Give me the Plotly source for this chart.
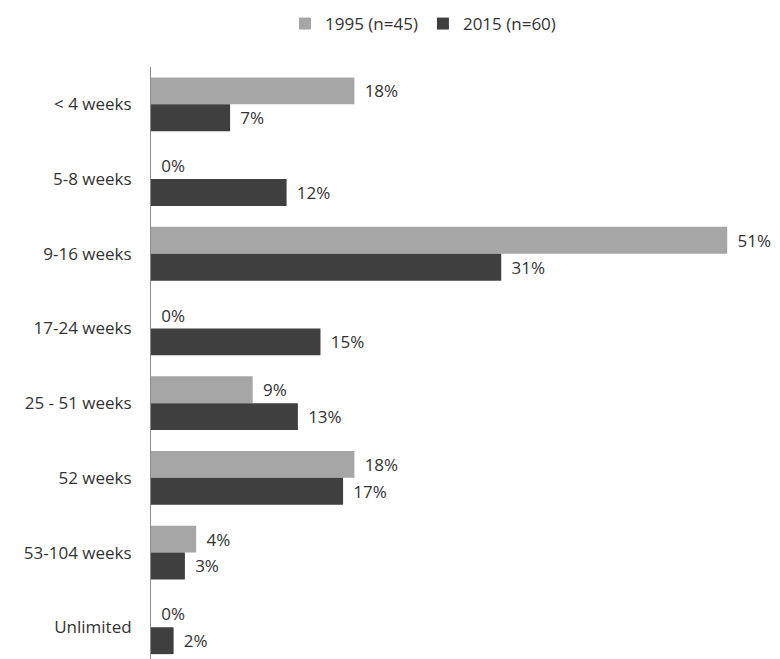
import plotly.graph_objects as go

categories = ["< 4 weeks", "5-8 weeks", "9-16 weeks", "17-24 weeks",
              "25 - 51 weeks", "52 weeks", "53-104 weeks", "Unlimited"]
values_1995 = [18, 0, 51, 0, 9, 18, 4, 0]
values_2015 = [7, 12, 31, 15, 13, 17, 3, 2]
name_1995 = "1995 (n=45)"
name_2015 = "2015 (n=60)"

FONT = "Open Sans, Lato, sans-serif"
TXT = "#333333"
FS = 17

W, H = 772, 651
LABEL = "\u00a0\u2009%{x}%"

fig = go.Figure()
fig.add_trace(go.Bar(
    y=categories, x=values_1995, name=name_1995, orientation="h",
    marker=dict(color="#a6a6a6", line=dict(width=0)),
    texttemplate=LABEL, textposition="outside", cliponaxis=False,
    constraintext="none",
    textfont=dict(family=FONT, size=FS, color=TXT),
))
fig.add_trace(go.Bar(
    y=categories, x=values_2015, name=name_2015, orientation="h",
    marker=dict(color="#3f3f3f", line=dict(width=0)),
    texttemplate=LABEL, textposition="outside", cliponaxis=False,
    constraintext="none",
    textfont=dict(family=FONT, size=FS, color=TXT),
))

fig.update_layout(
    width=W, height=H,
    margin=dict(l=143, r=20, t=58.6, b=0, pad=0, autoexpand=False),
    paper_bgcolor="white", plot_bgcolor="white",
    barmode="group", bargap=0.28, bargroupgap=0,
    font=dict(family=FONT, size=FS, color=TXT),
    showlegend=True,
    legend=dict(orientation="h", xref="container", yref="container",
                x=415 / W, xanchor="center", y=1 - 16 / H, yanchor="middle",
                font=dict(family=FONT, size=FS, color=TXT),
                traceorder="normal"),
    xaxis=dict(range=[0, 53.9], visible=False, showgrid=False, zeroline=False),
    yaxis=dict(categoryorder="array", categoryarray=categories,
               range=[7.425, -0.5], autorange=False, automargin=False,
               showline=True, linecolor="#8c8c8c", linewidth=1,
               showgrid=False, zeroline=False, ticks="",
               ticklabelstandoff=15,
               tickfont=dict(family=FONT, size=FS, color=TXT)),
)

fig.write_html("out.html")
